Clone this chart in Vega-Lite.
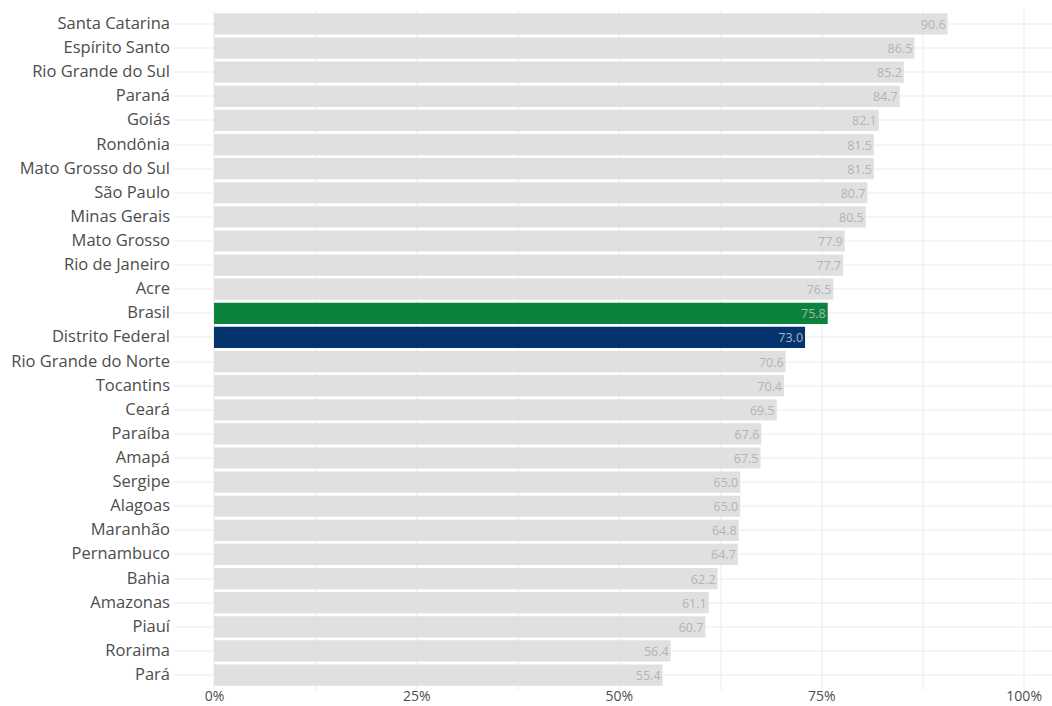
{
  "$schema": "https://vega.github.io/schema/vega-lite/v6.json",
  "width": 878.5,
  "height": 680,
  "autosize": "none",
  "padding": {"left": 173.5, "top": 9.5, "right": 0, "bottom": 16.5},
  "background": "white",
  "config": {"view": {"stroke": null}, "font": "Open Sans"},
  "data": {"values": [
    {"uf": "Santa Catarina", "valor": 90.6, "grupo": "UF"},
    {"uf": "Espírito Santo", "valor": 86.5, "grupo": "UF"},
    {"uf": "Rio Grande do Sul", "valor": 85.2, "grupo": "UF"},
    {"uf": "Paraná", "valor": 84.7, "grupo": "UF"},
    {"uf": "Goiás", "valor": 82.1, "grupo": "UF"},
    {"uf": "Rondônia", "valor": 81.5, "grupo": "UF"},
    {"uf": "Mato Grosso do Sul", "valor": 81.5, "grupo": "UF"},
    {"uf": "São Paulo", "valor": 80.7, "grupo": "UF"},
    {"uf": "Minas Gerais", "valor": 80.5, "grupo": "UF"},
    {"uf": "Mato Grosso", "valor": 77.9, "grupo": "UF"},
    {"uf": "Rio de Janeiro", "valor": 77.7, "grupo": "UF"},
    {"uf": "Acre", "valor": 76.5, "grupo": "UF"},
    {"uf": "Brasil", "valor": 75.8, "grupo": "Brasil"},
    {"uf": "Distrito Federal", "valor": 73.0, "grupo": "DF"},
    {"uf": "Rio Grande do Norte", "valor": 70.6, "grupo": "UF"},
    {"uf": "Tocantins", "valor": 70.4, "grupo": "UF"},
    {"uf": "Ceará", "valor": 69.5, "grupo": "UF"},
    {"uf": "Paraíba", "valor": 67.6, "grupo": "UF"},
    {"uf": "Amapá", "valor": 67.5, "grupo": "UF"},
    {"uf": "Sergipe", "valor": 65.0, "grupo": "UF"},
    {"uf": "Alagoas", "valor": 65.0, "grupo": "UF"},
    {"uf": "Maranhão", "valor": 64.8, "grupo": "UF"},
    {"uf": "Pernambuco", "valor": 64.7, "grupo": "UF"},
    {"uf": "Bahia", "valor": 62.2, "grupo": "UF"},
    {"uf": "Amazonas", "valor": 61.1, "grupo": "UF"},
    {"uf": "Piauí", "valor": 60.7, "grupo": "UF"},
    {"uf": "Roraima", "valor": 56.4, "grupo": "UF"},
    {"uf": "Pará", "valor": 55.4, "grupo": "UF"}
  ]},
  "encoding": {
    "y": {
      "field": "uf", "type": "nominal", "sort": null, "title": null,
      "scale": {"paddingInner": 0.12, "paddingOuter": 0.16},
      "axis": {"domain": false, "ticks": false, "grid": true, "gridColor": "#ebebeb", "gridWidth": 1,
               "labelFontSize": 16.5, "labelColor": "#4d4d4d", "labelPadding": 4, "labelFont": "Open Sans"}
    },
    "x": {
      "field": "valor", "type": "quantitative", "title": null,
      "scale": {"domain": [-5, 103.5], "nice": false, "zero": false},
      "axis": {"values": [0, 12.5, 25, 37.5, 50, 62.5, 75, 87.5, 100],
               "labelExpr": "datum.value % 25 == 0 ? datum.value + '%' : ''",
               "domain": false, "ticks": false, "grid": true, "gridColor": "#ebebeb", "gridWidth": 1,
               "labelFontSize": 14, "labelColor": "#4d4d4d", "labelPadding": 0, "labelFont": "Open Sans",
               "labelFlush": false}
    }
  },
  "layer": [
    {
      "mark": {"type": "bar"},
      "encoding": {
        "x": {"field": "valor", "type": "quantitative"},
        "x2": {"datum": 0},
        "color": {"field": "grupo", "type": "nominal", "legend": null,
                  "scale": {"domain": ["UF", "Brasil", "DF"], "range": ["#e0e0e0", "#0a843d", "#03346f"]}}
      }
    },
    {
      "mark": {"type": "text", "align": "right", "baseline": "middle", "dx": -2, "dy": 1, "fontSize": 12.5, "color": "#b3b3b3", "font": "Open Sans"},
      "encoding": {
        "text": {"field": "valor", "type": "quantitative", "format": ".1f"}
      }
    }
  ]
}
